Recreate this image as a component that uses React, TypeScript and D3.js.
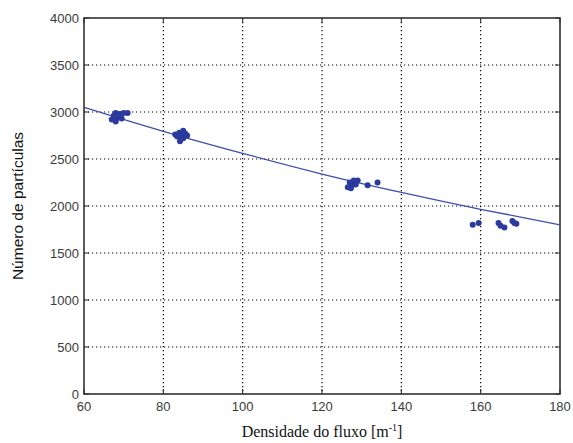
import { useEffect, useRef } from "react";
import * as d3 from "d3";

// measured points (densidade, numero)
const pointsX = [67, 67.5, 68, 68.5, 69, 68, 69.5, 70, 67.8, 68.8, 71,
  83, 84, 84.5, 85, 85.5, 84.2, 86, 83.5, 85,
  126.5, 127, 127.5, 128, 128.5, 129, 127.3, 131.5, 134,
  158, 159.5, 164.5, 165, 166, 168, 168.5, 169];
const pointsY = [2920, 2960, 2990, 2940, 2980, 2900, 2930, 2990, 2950, 2960, 2990,
  2760, 2780, 2740, 2800, 2770, 2690, 2750, 2740, 2720,
  2200, 2250, 2220, 2270, 2230, 2270, 2190, 2220, 2250,
  1800, 1820, 1820, 1790, 1770, 1840, 1820, 1810];

// fitted curve
const fitX = [60, 80, 100, 120, 140, 160, 180];
const fitY = [3050, 2795, 2560, 2340, 2145, 1965, 1800];

const xTicks = [60, 80, 100, 120, 140, 160, 180];
const yTicks = [0, 500, 1000, 1500, 2000, 2500, 3000, 3500, 4000];

export default function App() {
  const ref = useRef<SVGSVGElement>(null);

  useEffect(() => {
    const svg = d3.select(ref.current);
    svg.selectAll("*").remove();

    const width = 573, height = 443;
    const left = 84, right = 560, top = 18, bottom = 394;

    const x = d3.scaleLinear().domain([60, 180]).range([left, right]);
    const y = d3.scaleLinear().domain([0, 4000]).range([bottom, top]);

    svg.attr("width", width).attr("height", height);

    svg.append("rect").attr("width", width).attr("height", height).attr("fill", "white");

    // dotted grid
    const grid = svg.append("g").attr("stroke", "#000").attr("stroke-width", 1.2)
      .attr("stroke-dasharray", "1.2,2.8");
    grid.selectAll(".gx").data(xTicks.slice(1, -1)).enter().append("line")
      .attr("x1", d => x(d)).attr("x2", d => x(d)).attr("y1", top).attr("y2", bottom);
    grid.selectAll(".gy").data(yTicks.slice(1, -1)).enter().append("line")
      .attr("y1", d => y(d)).attr("y2", d => y(d)).attr("x1", left).attr("x2", right);

    // inward ticks
    const ticks = svg.append("g").attr("stroke", "#222").attr("stroke-width", 1);
    ticks.selectAll(".tx").data(xTicks).enter().append("path")
      .attr("d", d => `M${x(d)},${bottom}v-5M${x(d)},${top}v5`);
    ticks.selectAll(".ty").data(yTicks).enter().append("path")
      .attr("d", d => `M${left},${y(d)}h5M${right},${y(d)}h-5`);

    // frame
    svg.append("rect").attr("x", left).attr("y", top)
      .attr("width", right - left).attr("height", bottom - top)
      .attr("fill", "none").attr("stroke", "#333").attr("stroke-width", 1.6);

    // tick labels
    const lab = svg.append("g").attr("font-family", "Liberation Sans, Arial, sans-serif")
      .attr("font-size", 13).attr("fill", "#3a3a3a");
    lab.selectAll(".lx").data(xTicks).enter().append("text")
      .attr("x", d => x(d)).attr("y", bottom + 17).attr("text-anchor", "middle")
      .text(d => d);
    lab.selectAll(".ly").data(yTicks).enter().append("text")
      .attr("x", left - 5).attr("y", d => y(d) + 4.5).attr("text-anchor", "end")
      .text(d => d);

    // fitted line
    const line = d3.line<number>().x((d, i) => x(fitX[i])).y(d => y(d)).curve(d3.curveNatural);
    svg.append("path").datum(fitY).attr("d", line)
      .attr("fill", "none").attr("stroke", "#3d4fae").attr("stroke-width", 1.3);

    // points
    svg.append("g").attr("fill", "#2b3a9e").selectAll("circle").data(pointsX).enter()
      .append("circle")
      .attr("cx", d => x(d)).attr("cy", (d, i) => y(pointsY[i])).attr("r", 3);

    // axis titles
    const xt = svg.append("text").attr("x", (left + right) / 2).attr("y", 437)
      .attr("text-anchor", "middle").attr("font-family", "Liberation Serif, Times New Roman, serif")
      .attr("font-size", 16).attr("fill", "#111");
    xt.append("tspan").text("Densidade do fluxo [m");
    xt.append("tspan").attr("dy", -6).attr("font-size", 10).text("-1");
    xt.append("tspan").attr("dy", 6).text("]");

    svg.append("text").attr("transform", `translate(23,${(top + bottom) / 2}) rotate(-90)`)
      .attr("text-anchor", "middle").attr("font-family", "Liberation Sans, Arial, sans-serif")
      .attr("font-size", 15.5).attr("fill", "#111").text("Número de partículas");
  }, []);

  return <svg ref={ref} style={{ position: "absolute", left: 0, top: 0 }}></svg>;
}
